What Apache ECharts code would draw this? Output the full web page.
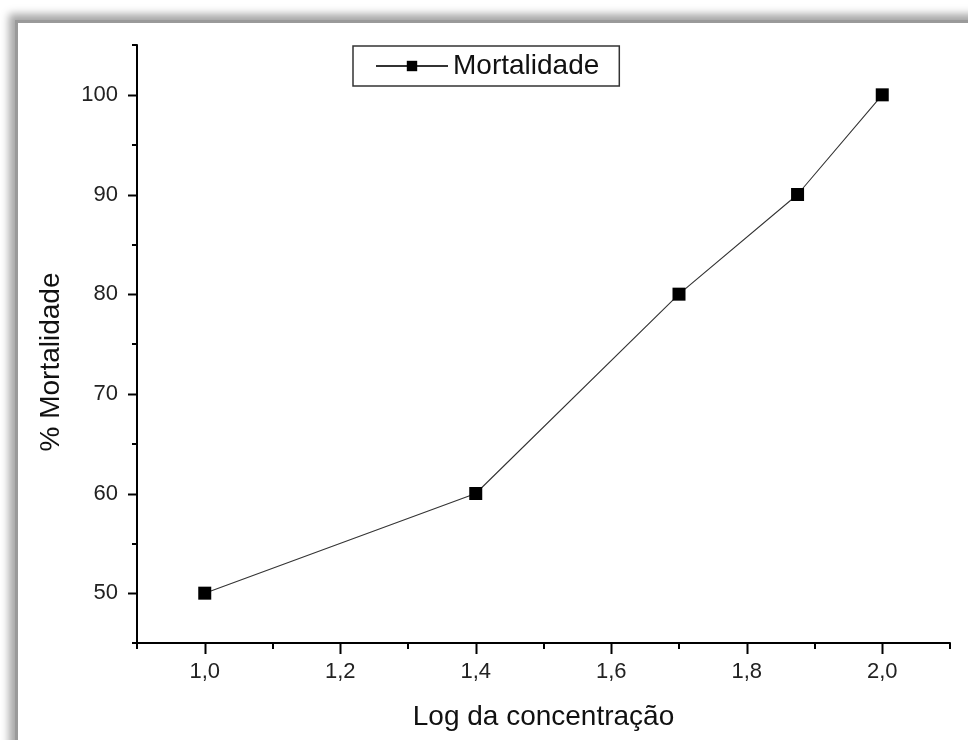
<!DOCTYPE html>
<html>
<head>
<meta charset="utf-8">
<script src="https://cdn.jsdelivr.net/npm/echarts@6/dist/echarts.min.js"></script>
<style>
  html, body { margin: 0; padding: 0; background: #ffffff; width: 968px; height: 740px; overflow: hidden; }
  #frame { position: absolute; left: 15px; top: 20px; width: 1000px; height: 800px; background: #fff;
           border-left: 3px solid #9a9a9a; border-top: 3px solid #9a9a9a; box-sizing: border-box;
           box-shadow: -5px -5px 8px 1px rgba(0,0,0,0.35); }
  #chart { position: absolute; left: 0; top: 0; width: 968px; height: 740px; }
</style>
</head>
<body>
<div id="frame"></div>
<div id="chart"></div>
<script>
// Data
const seriesName = 'Mortalidade';
const logConc = [1.0, 1.4, 1.7, 1.875, 2.0];
const mortality = [50, 60, 80, 90, 100];
const xLabelValues = [1.0, 1.2, 1.4, 1.6, 1.8, 2.0];
const yLabelValues = [50, 60, 70, 80, 90, 100];
const xTitle = 'Log da concentração';
const yTitle = '% Mortalidade';

const chart = echarts.init(document.getElementById('chart'), null, { renderer: 'canvas' });
const font = 'Liberation Sans, Arial, sans-serif';
const points = logConc.map((x, i) => [x, mortality[i]]);
const X_MIN = 0.9, X_MAX = 2.1, Y_MIN = 45, Y_MAX = 105;

const option = {
  backgroundColor: 'transparent',
  animation: false,
  grid: { left: 137, right: 18, top: 45, bottom: 97, containLabel: false },
  legend: {
    show: true,
    data: [seriesName],
    left: 353, top: 46,
    padding: [6, 20, 6, 22],
    borderColor: '#333', borderWidth: 1.5,
    backgroundColor: '#fff',
    itemWidth: 72, itemHeight: 13,
    textStyle: { fontFamily: font, fontSize: 28, color: '#111' }
  },
  xAxis: {
    type: 'value', min: X_MIN, max: X_MAX, interval: 0.2,
    name: xTitle, nameLocation: 'middle', nameGap: 60,
    nameTextStyle: { fontFamily: font, fontSize: 28, color: '#111' },
    axisLine: { show: true, onZero: false, lineStyle: { color: '#000', width: 2 } },
    axisTick: { show: true, length: 6, lineStyle: { color: '#000', width: 2 } },
    axisLabel: { show: true, customValues: xLabelValues, margin: 18, fontFamily: font, fontSize: 22, color: '#222',
                 formatter: v => v.toFixed(1).replace('.', ',') },
    splitLine: { show: false }
  },
  yAxis: {
    type: 'value', min: Y_MIN, max: Y_MAX, interval: 10,
    name: yTitle, nameLocation: 'middle', nameGap: 72, nameRotate: 90,
    nameTextStyle: { fontFamily: font, fontSize: 28, color: '#111', padding: [0, 36, 0, 0] },
    axisLine: { show: true, onZero: false, lineStyle: { color: '#000', width: 2 } },
    axisTick: { show: true, length: 5, lineStyle: { color: '#000', width: 2 } },
    axisLabel: { show: true, customValues: yLabelValues, margin: 19, fontFamily: font, fontSize: 22, color: '#222' },
    splitLine: { show: false }
  },
  series: [
    {
      name: seriesName,
      type: 'line',
      data: points,
      symbol: 'rect', symbolSize: 13,
      itemStyle: { color: '#000' },
      lineStyle: { color: '#333', width: 1.1 },
      emphasis: { disabled: true }
    }
  ]
};
chart.setOption(option);

// Longer major ticks at the labelled values, positioned through the axis scales
const xAxisY = chart.convertToPixel({ yAxisIndex: 0 }, Y_MIN);
const yAxisX = chart.convertToPixel({ xAxisIndex: 0 }, X_MIN);
const tickStyle = { stroke: '#000', lineWidth: 2 };
const majorTicks = [];
xLabelValues.forEach(v => {
  const px = Math.round(chart.convertToPixel({ xAxisIndex: 0 }, v)) + 0.5;
  majorTicks.push({ type: 'line', silent: true, z: 10,
    shape: { x1: px, y1: xAxisY, x2: px, y2: xAxisY + 11 }, style: tickStyle });
});
yLabelValues.forEach(v => {
  const py = Math.round(chart.convertToPixel({ yAxisIndex: 0 }, v)) + 0.5;
  majorTicks.push({ type: 'line', silent: true, z: 10,
    shape: { x1: yAxisX - 9, y1: py, x2: yAxisX, y2: py }, style: tickStyle });
});
chart.setOption({ graphic: majorTicks });
</script>
</body>
</html>
